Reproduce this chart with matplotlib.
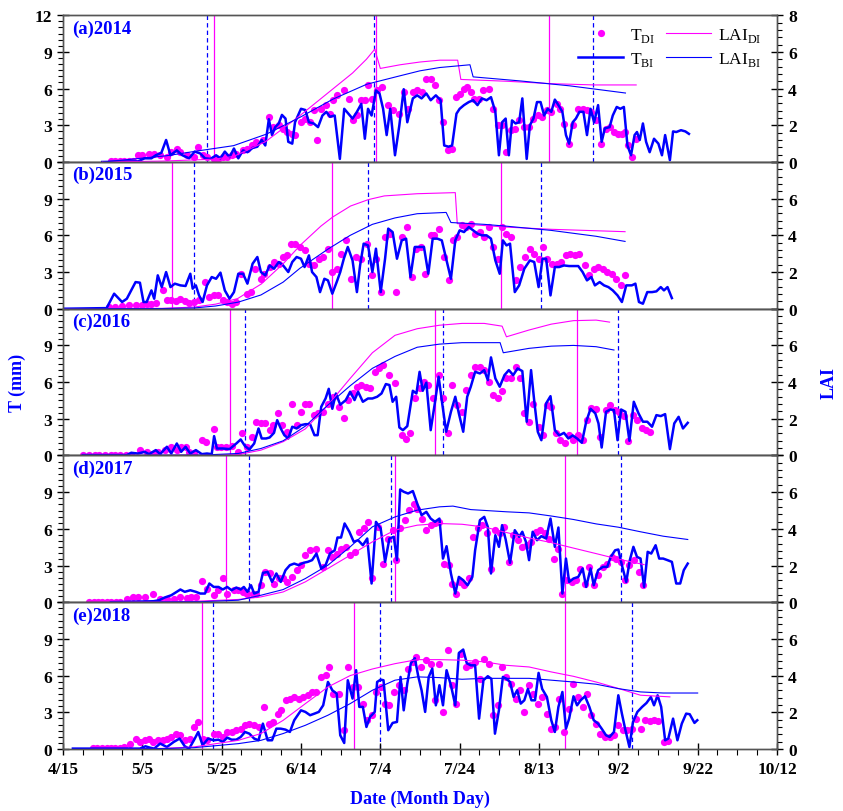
import numpy as np
import matplotlib
matplotlib.use('Agg')
import matplotlib.pyplot as plt
from matplotlib.ticker import MultipleLocator
from matplotlib.lines import Line2D

# Day of year for x; T in mm, LAI in m2/m2
years = [2014, 2015, 2016, 2017, 2018]
panel_tags = ['(a)', '(b)', '(c)', '(d)', '(e)']

tick_days = [105, 125, 145, 165, 185, 205, 225, 245, 265, 285]
tick_labels = ['4/15', '5/5', '5/25', '6/14', '7/4', '7/24', '8/13', '9/2', '9/22', '10/12']

# growth stage boundaries (DI solid magenta, BI dashed blue)
stage_di_2014 = [143.0, 183.8, 227.6]
stage_bi_2014 = [141.3, 183.3, 238.7]
stage_di_2015 = [132.4, 172.7, 215.5]
stage_bi_2015 = [138.0, 181.8, 225.6]
stage_di_2016 = [147.0, 198.9, 234.7]
stage_bi_2016 = [150.8, 200.9, 245.0]
stage_di_2017 = [146.0, 188.6, 231.6]
stage_bi_2017 = [151.8, 187.8, 245.7]
stage_di_2018 = [140.0, 178.3, 231.6]
stage_bi_2018 = [142.8, 184.8, 248.5]

# ---- 2014 ----
tbi_2014 = [
    (114.9, 0.0), (123.9, 0.05), (125.6, 0.3), (127.3, 0.3), (128.4, 0.55), (129.8, 0.75), (131.0, 1.8),
    (132.1, 0.55), (133.7, 0.95), (135.1, 0.55), (136.8, 0.3), (138.2, 0.85), (139.6, 0.7), (140.8, 0.3),
    (142.2, 0.25), (143.6, 0.55), (144.7, 0.3), (145.8, 0.85), (147.0, 0.4), (148.1, 1.1), (149.2, 0.3),
    (150.4, 0.95), (151.5, 0.8), (152.8, 1.15), (154.0, 1.25), (155.1, 1.8), (156.0, 1.35), (156.9, 3.5),
    (157.7, 2.2), (158.5, 2.85), (159.4, 3.15), (160.2, 3.85), (161.1, 3.55), (161.8, 1.65), (162.8, 1.5),
    (163.5, 3.25), (165.0, 4.35), (166.1, 4.25), (167.0, 3.25), (168.2, 3.15), (169.3, 2.85), (170.4, 3.8),
    (171.4, 4.1), (172.3, 3.7), (173.5, 3.8), (174.8, 0.25), (175.9, 4.35), (178.0, 3.55), (179.1, 4.1),
    (180.2, 4.75), (181.1, 1.9), (181.9, 4.35), (182.8, 3.8), (183.9, 5.85), (184.8, 5.6), (185.7, 4.35),
    (186.6, 2.2), (187.5, 4.35), (188.7, 0.55), (189.8, 3.0), (190.9, 5.95), (191.8, 3.25), (193.2, 5.2),
    (194.3, 5.45), (195.4, 5.2), (196.6, 5.6), (197.7, 5.05), (199.0, 5.45), (200.2, 5.05), (201.1, 1.35),
    (202.2, 1.25), (203.1, 1.35), (204.2, 3.95), (205.0, 4.35), (206.1, 4.65), (207.3, 4.9), (208.4, 5.05),
    (209.5, 4.65), (210.6, 5.2), (211.8, 5.05), (212.9, 5.3), (214.0, 4.1), (214.9, 0.55), (215.7, 3.25),
    (216.6, 3.55), (217.4, 0.55), (218.2, 3.4), (219.1, 3.15), (220.0, 3.25), (220.8, 5.2), (221.9, 0.25),
    (222.7, 3.0), (223.6, 3.55), (224.5, 4.9), (225.4, 4.9), (226.3, 3.8), (227.2, 4.35), (228.1, 4.1),
    (229.0, 5.1), (229.9, 4.65), (230.9, 4.1), (231.8, 2.2), (232.6, 1.5), (233.5, 3.25), (234.3, 3.55),
    (235.2, 4.1), (236.2, 4.1), (237.1, 2.2), (238.0, 4.35), (238.9, 3.25), (239.9, 4.65), (240.8, 1.65),
    (241.6, 2.75), (242.8, 2.85), (243.6, 3.8), (244.6, 4.5), (245.5, 4.35), (246.4, 4.5), (247.3, 1.35),
    (248.2, 0.55), (249.1, 2.2), (249.7, 2.45), (250.4, 1.8), (251.2, 3.15), (252.0, 1.65), (252.9, 0.8),
    (254.0, 1.9), (255.1, 1.5), (256.0, 0.55), (256.8, 2.2), (258.0, 0.15), (258.8, 2.5), (259.6, 2.45),
    (260.8, 2.6), (261.9, 2.5), (262.8, 2.3),
]
tdi_2014 = [
    (117.1, 0.05), (118.2, 0.05), (119.4, 0.05), (120.5, 0.05), (121.6, 0.05), (122.7, 0.1), (123.9, 0.55),
    (125.0, 0.55), (126.7, 0.68), (128.0, 0.68), (129.5, 0.55), (131.2, 0.41), (132.3, 0.82), (133.7, 1.09),
    (134.6, 0.82), (136.3, 0.55), (138.0, 0.41), (139.1, 1.23), (140.2, 0.55), (141.3, 0.41), (143.0, 0.27),
    (144.2, 0.27), (145.3, 0.41), (146.4, 0.41), (147.5, 0.55), (148.7, 0.68), (150.4, 0.95), (151.5, 1.09),
    (152.6, 1.36), (153.7, 1.64), (155.4, 1.77), (156.9, 3.68), (158.0, 2.86), (159.4, 3.0), (160.5, 2.73),
    (161.6, 2.45), (162.8, 2.32), (163.6, 2.18), (165.0, 3.27), (166.1, 3.54), (167.3, 3.27), (168.2, 4.23),
    (169.0, 1.77), (170.1, 4.36), (171.2, 4.64), (172.3, 3.95), (173.1, 5.05), (174.2, 5.45), (175.9, 5.86),
    (177.1, 5.18), (178.0, 3.41), (179.1, 3.82), (180.2, 5.05), (181.1, 5.05), (181.9, 6.33), (183.0, 5.18),
    (184.2, 5.86), (185.3, 6.14), (187.0, 4.64), (188.1, 4.23), (189.8, 3.95), (190.9, 5.73), (192.0, 4.36),
    (193.2, 5.73), (194.3, 5.86), (195.4, 5.73), (196.6, 6.82), (197.7, 6.82), (198.8, 6.27), (199.9, 5.05),
    (200.8, 3.27), (202.0, 0.95), (203.1, 1.09), (204.2, 5.32), (205.0, 5.59), (206.1, 6.0), (206.9, 6.14),
    (207.8, 5.73), (208.7, 5.18), (209.9, 5.18), (211.0, 5.86), (212.3, 6.0), (213.5, 4.36), (214.6, 3.0),
    (215.7, 3.0), (216.8, 0.82), (218.0, 2.59), (218.9, 2.73), (220.0, 3.41), (221.3, 2.86), (222.5, 2.86),
    (223.6, 3.54), (224.7, 3.82), (225.8, 3.68), (227.0, 4.23), (228.1, 4.09), (229.5, 4.77), (230.4, 4.36),
    (231.3, 3.14), (232.6, 1.5), (233.7, 3.0), (234.9, 4.36), (236.0, 4.36), (237.1, 4.23), (238.2, 4.09),
    (239.4, 3.41), (240.7, 1.5), (241.8, 2.73), (243.0, 2.86), (243.9, 2.45), (245.0, 2.32), (245.9, 2.32),
    (246.7, 2.45), (247.5, 1.36), (248.4, 0.41), (249.5, 1.91),
]
lai_di_2014 = [
    (115.0, 0.0), (130.0, 0.05), (143.0, 0.15), (148.0, 0.3), (156.0, 1.1), (164.0, 2.4), (172.0, 3.8),
    (178.0, 4.85), (181.5, 5.6), (183.6, 6.15), (185.0, 5.1), (190.0, 5.3), (195.0, 5.45), (200.0, 5.55),
    (204.5, 5.55), (205.3, 4.5), (217.0, 4.4), (228.0, 4.27), (239.0, 4.2), (249.5, 4.2),
]
lai_bi_2014 = [
    (115.2, 0.0), (122.7, 0.16), (131.1, 0.34), (139.5, 0.62), (148.0, 0.89), (156.3, 1.52), (164.7, 2.43),
    (173.1, 3.43), (181.6, 4.24), (190.0, 4.7), (195.0, 4.97), (200.0, 5.15), (207.6, 5.3), (208.4, 4.64),
    (220.2, 4.42), (232.8, 4.15), (246.8, 3.76),
]

# ---- 2015 ----
tbi_2015 = [
    (105.0, 0.0), (116.0, 0.05), (117.9, 1.23), (119.9, 0.55), (121.1, 0.82), (123.3, 2.18), (124.4, 2.13),
    (125.3, 0.55), (126.1, 0.55), (127.3, 1.5), (128.0, 0.82), (128.9, 2.73), (129.9, 1.77), (131.0, 3.0),
    (132.1, 1.77), (133.2, 2.05), (134.6, 1.91), (135.9, 1.86), (137.1, 2.86), (137.7, 1.64), (138.5, 1.91),
    (139.3, 1.09), (140.2, 0.55), (141.3, 1.91), (142.5, 2.59), (143.6, 2.45), (144.7, 2.95), (145.8, 1.5),
    (147.0, 0.82), (148.1, 1.36), (149.2, 2.86), (150.4, 2.86), (151.5, 2.05), (152.8, 3.68), (154.0, 4.23),
    (154.9, 3.0), (156.0, 2.73), (157.1, 3.54), (158.2, 3.27), (159.4, 3.82), (160.5, 3.54), (161.8, 3.0),
    (162.8, 3.82), (163.9, 4.23), (165.0, 4.09), (165.9, 3.41), (167.0, 4.36), (167.8, 3.0), (168.9, 2.59),
    (169.8, 1.36), (170.9, 2.45), (171.8, 2.32), (172.9, 1.23), (174.0, 2.18), (174.9, 3.0), (175.8, 4.09),
    (176.8, 5.05), (178.0, 3.95), (179.1, 1.36), (179.9, 3.54), (180.8, 5.32), (181.9, 5.18), (183.0, 3.0),
    (183.9, 4.91), (185.1, 1.36), (186.2, 4.09), (187.0, 6.55), (188.1, 6.27), (189.2, 4.09), (190.4, 5.59),
    (191.5, 5.73), (192.6, 2.59), (193.7, 5.05), (194.9, 5.05), (196.0, 5.05), (197.1, 2.86), (198.2, 5.73),
    (199.4, 5.73), (200.5, 5.59), (201.6, 4.09), (202.8, 2.45), (203.9, 5.59), (205.0, 6.41), (206.1, 6.27),
    (207.3, 6.68), (208.4, 6.41), (209.5, 6.14), (210.6, 6.0), (211.8, 6.0), (212.9, 5.73), (214.0, 3.95),
    (215.1, 2.86), (215.9, 5.59), (216.8, 5.18), (217.7, 5.32), (218.9, 1.36), (220.0, 1.91), (221.3, 3.27),
    (222.7, 3.95), (223.8, 3.82), (224.9, 1.77), (225.9, 4.09), (226.8, 4.09), (227.9, 1.09), (229.0, 3.41),
    (230.1, 3.41), (231.3, 3.54), (232.6, 3.49), (233.7, 3.49), (234.9, 3.49), (236.0, 3.0), (237.1, 2.32),
    (238.2, 2.59), (239.1, 1.91), (240.3, 2.18), (241.4, 1.91), (242.5, 1.77), (243.6, 1.5), (244.8, 1.09),
    (245.9, 0.55), (247.0, 1.91), (248.4, 1.91), (249.3, 2.05), (250.2, 0.55), (251.2, 0.41), (252.3, 1.36),
    (253.5, 1.36), (254.6, 1.42), (255.7, 1.77), (256.5, 1.5), (257.4, 1.77), (258.5, 0.87),
]
tdi_2015 = [
    (116.6, 0.14), (118.2, 0.14), (119.9, 0.22), (121.6, 0.27), (123.3, 0.27), (125.0, 0.33), (126.1, 0.41),
    (127.3, 0.41), (128.4, 0.49), (130.1, 1.5), (131.2, 0.68), (132.3, 0.68), (133.5, 0.6), (134.6, 0.82),
    (135.7, 0.6), (136.8, 0.46), (138.0, 0.55), (139.3, 0.68), (140.8, 2.18), (141.9, 0.95), (143.0, 1.09),
    (144.2, 1.09), (145.3, 0.68), (146.4, 0.55), (147.5, 0.41), (148.7, 0.55), (149.8, 2.86), (151.3, 1.23),
    (152.4, 1.36), (153.5, 3.27), (154.9, 2.45), (155.8, 2.86), (157.1, 3.41), (158.2, 3.82), (159.4, 3.68),
    (160.5, 4.23), (161.6, 4.36), (162.5, 5.32), (163.6, 5.32), (164.8, 5.05), (165.9, 4.77), (167.0, 3.68),
    (168.2, 3.54), (169.5, 4.09), (170.6, 4.23), (171.8, 4.91), (172.9, 3.0), (174.0, 3.27), (175.1, 4.5),
    (176.3, 5.59), (177.6, 2.45), (178.8, 4.23), (180.2, 4.09), (181.7, 5.32), (182.8, 2.73), (183.9, 4.09),
    (185.1, 1.36), (186.2, 5.86), (187.5, 6.14), (188.9, 1.36), (190.4, 5.86), (191.8, 6.68), (192.9, 2.59),
    (194.1, 4.91), (195.2, 5.05), (196.3, 2.86), (197.7, 6.0), (198.6, 6.0), (199.9, 6.55), (201.1, 4.23),
    (202.2, 2.32), (203.3, 5.59), (204.4, 5.86), (205.6, 6.82), (206.7, 6.68), (207.8, 6.95), (208.9, 6.14),
    (210.1, 6.27), (211.2, 5.86), (212.3, 6.68), (213.5, 5.05), (214.6, 4.09), (215.7, 6.68), (216.8, 6.14),
    (218.0, 5.86), (219.1, 2.32), (220.2, 3.41), (221.6, 4.23), (222.7, 4.91), (223.8, 4.5), (224.9, 4.09),
    (225.9, 5.05), (227.0, 4.09), (228.3, 3.68), (229.5, 3.68), (230.6, 3.82), (231.7, 4.36), (232.8, 4.5),
    (234.0, 4.36), (235.1, 4.5), (236.6, 3.54), (237.7, 2.73), (238.8, 3.27), (239.9, 3.41), (241.1, 3.27),
    (242.2, 3.0), (243.3, 2.86), (244.4, 2.45), (245.6, 1.91), (246.7, 2.73),
]
lai_di_2015 = [
    (105.0, 0.0), (130.0, 0.02), (138.0, 0.09), (143.5, 0.25), (149.0, 0.55), (155.0, 1.35), (160.5, 2.45),
    (165.0, 3.5), (170.0, 4.5), (173.0, 5.0), (177.5, 5.6), (182.0, 5.95), (186.0, 6.15), (194.3, 6.27),
    (203.9, 6.33), (204.4, 4.64), (216.8, 4.45), (228.1, 4.33), (246.7, 4.2),
]
lai_bi_2015 = [
    (105.0, 0.0), (130.0, 0.01), (138.0, 0.04), (143.5, 0.15), (149.2, 0.36), (154.9, 0.75), (160.5, 1.45),
    (164.7, 2.2), (171.8, 3.25), (177.4, 4.0), (183.0, 4.6), (188.7, 4.95), (194.3, 5.18), (201.6, 5.25),
    (202.8, 4.7), (211.2, 4.6), (216.8, 4.5), (228.1, 4.27), (239.4, 3.95), (246.7, 3.67),
]

# ---- 2016 ----
tbi_2016 = [
    (110.0, 0.03), (121.1, 0.03), (122.2, 0.22), (123.9, 0.16), (125.6, 0.3), (126.7, 0.11), (128.4, 0.44),
    (129.5, 0.11), (131.2, 0.71), (132.3, 0.16), (133.7, 0.98), (134.8, 0.3), (135.9, 0.71), (137.1, 0.16),
    (138.5, 0.44), (140.0, 0.11), (141.3, 0.16), (142.5, 0.11), (143.1, 1.58), (143.8, 0.57), (145.3, 0.57),
    (147.0, 0.52), (148.7, 0.98), (149.8, 1.31), (150.9, 0.76), (152.0, 0.49), (153.2, 0.98), (154.3, 2.21),
    (155.1, 1.39), (156.2, 1.39), (157.1, 1.47), (158.2, 1.85), (159.0, 2.89), (159.9, 2.21), (160.8, 1.66),
    (161.8, 1.39), (162.8, 2.35), (163.9, 2.21), (165.0, 2.48), (166.1, 2.56), (167.3, 2.56), (168.4, 1.66),
    (169.2, 1.66), (170.1, 3.98), (171.2, 4.66), (172.0, 5.45), (172.9, 3.82), (173.8, 5.07), (174.9, 4.15),
    (176.3, 4.53), (177.4, 5.21), (178.5, 4.53), (179.4, 5.21), (180.6, 4.39), (181.9, 4.66), (183.0, 4.66),
    (184.2, 4.8), (185.3, 5.07), (186.4, 5.84), (187.3, 5.76), (188.1, 4.39), (189.0, 4.8), (189.8, 2.29),
    (190.7, 2.07), (191.8, 2.4), (193.2, 5.29), (194.1, 5.07), (194.9, 6.84), (195.7, 5.29), (196.6, 5.95),
    (197.7, 2.07), (198.8, 4.39), (199.7, 6.44), (200.6, 4.26), (201.6, 1.94), (202.8, 3.57), (203.9, 4.8),
    (204.8, 3.44), (205.9, 1.94), (206.9, 4.8), (207.8, 5.62), (208.9, 6.84), (210.1, 6.71), (211.2, 6.98),
    (212.1, 6.16), (212.9, 8.02), (214.0, 6.3), (215.1, 5.62), (216.3, 6.57), (217.4, 6.98), (218.5, 6.57),
    (219.6, 7.12), (220.8, 6.9), (221.9, 2.76), (223.0, 6.98), (223.8, 4.47), (224.7, 1.94), (225.6, 1.25),
    (226.8, 4.26), (227.9, 4.85), (229.0, 2.07), (230.1, 1.64), (231.3, 1.85), (232.4, 1.39), (233.5, 1.64),
    (234.6, 1.39), (235.8, 1.04), (236.9, 2.76), (238.0, 3.82), (239.2, 3.44), (240.0, 2.62), (240.8, 0.65),
    (241.9, 3.57), (243.0, 3.76), (243.9, 3.71), (244.8, 1.25), (245.7, 3.76), (246.8, 3.57), (247.8, 1.2),
    (248.9, 4.39), (250.1, 3.44), (251.2, 2.76), (252.3, 2.76), (253.5, 2.35), (254.6, 3.3), (255.7, 3.22),
    (256.8, 3.38), (258.0, 0.52), (259.1, 2.62), (260.2, 3.16), (261.3, 2.21), (262.5, 2.67),
]
tdi_2016 = [
    (110.0, 0.05), (111.5, 0.05), (113.0, 0.05), (114.0, 0.05), (115.5, 0.05), (117.0, 0.05), (118.0, 0.05),
    (119.5, 0.05), (121.0, 0.05), (122.2, 0.03), (124.4, 0.44), (126.1, 0.3), (127.8, 0.16), (129.0, 0.3),
    (130.6, 0.44), (132.3, 0.71), (133.7, 0.44), (134.8, 0.71), (135.9, 0.71), (136.8, 0.3), (138.0, 0.22),
    (140.0, 1.25), (141.1, 1.12), (143.0, 2.15), (143.8, 0.71), (144.9, 0.71), (146.1, 0.71), (147.5, 0.76),
    (149.0, 0.25), (150.1, 1.8), (151.5, 0.71), (152.6, 1.53), (153.7, 2.75), (154.9, 2.62), (156.0, 2.62),
    (157.1, 2.07), (158.0, 2.48), (159.1, 3.44), (160.2, 2.48), (161.4, 1.94), (162.8, 4.25), (163.9, 2.48),
    (165.0, 3.57), (166.1, 4.25), (167.0, 4.25), (168.2, 3.3), (169.3, 3.44), (170.6, 3.57), (171.8, 4.25),
    (173.1, 4.8), (174.6, 3.98), (175.9, 3.03), (176.8, 4.53), (178.0, 5.07), (179.1, 5.62), (180.2, 5.75),
    (181.3, 5.62), (182.5, 5.48), (183.6, 6.84), (184.7, 7.12), (185.8, 7.39), (187.3, 6.57), (188.7, 5.89),
    (190.4, 1.66), (191.5, 1.31), (192.6, 1.8), (193.7, 4.66), (194.9, 5.48), (196.0, 6.03), (197.1, 5.75),
    (198.2, 4.66), (199.7, 6.57), (200.8, 4.66), (202.0, 1.8), (203.1, 5.75), (204.4, 4.12), (205.6, 3.57),
    (206.7, 5.34), (207.8, 6.57), (208.9, 7.25), (210.1, 7.25), (211.2, 6.98), (212.3, 6.03), (213.5, 4.94),
    (214.6, 4.66), (215.7, 5.29), (216.8, 6.3), (218.0, 6.3), (219.1, 7.25), (220.2, 6.3), (221.3, 3.44),
    (222.5, 2.75), (223.6, 4.25), (224.9, 2.35), (226.1, 1.66), (227.0, 4.12), (228.1, 3.98), (229.2, 1.85),
    (230.4, 1.25), (231.5, 0.98), (232.6, 1.66), (233.7, 1.25), (234.9, 1.66), (236.0, 1.25), (237.1, 2.89),
    (238.2, 3.85), (239.4, 3.76), (240.5, 1.53), (241.9, 3.71), (243.0, 4.12), (244.1, 3.71), (245.2, 3.57),
    (246.4, 3.22), (247.5, 1.17), (248.6, 3.3), (249.7, 2.89), (250.9, 2.21), (252.0, 2.07), (253.1, 1.94),
]
lai_di_2016 = [
    (110.0, 0.0), (140.0, 0.01), (149.2, 0.05), (154.9, 0.29), (160.5, 0.75), (166.1, 1.45), (171.8, 2.75),
    (177.4, 4.2), (183.0, 5.6), (188.7, 6.55), (194.3, 6.91), (199.9, 7.1), (205.6, 7.2), (211.2, 7.2),
    (215.7, 7.05), (216.8, 6.47), (222.5, 6.84), (228.1, 7.16), (233.7, 7.35), (239.4, 7.38), (242.8, 7.27),
]
lai_bi_2016 = [
    (110.0, 0.0), (140.0, 0.02), (149.2, 0.11), (154.9, 0.38), (160.5, 0.8), (166.1, 1.6), (171.8, 2.75),
    (177.4, 3.8), (183.0, 4.75), (188.7, 5.4), (194.3, 5.9), (199.9, 6.07), (205.6, 6.15), (215.2, 6.15),
    (216.0, 5.6), (222.5, 5.84), (228.1, 5.96), (233.7, 6.0), (239.4, 5.93), (243.9, 5.75),
]

# ---- 2017 ----
tbi_2017 = [
    (117.1, 0.0), (127.8, 0.08), (129.2, 0.16), (130.6, 0.38), (132.3, 0.57), (133.7, 0.85), (134.6, 1.04),
    (135.7, 0.85), (137.1, 0.98), (138.5, 0.85), (139.6, 0.71), (140.8, 0.71), (141.9, 1.53), (143.0, 1.25),
    (144.2, 1.25), (145.3, 1.04), (146.4, 1.25), (147.5, 0.98), (148.7, 1.2), (149.8, 1.04), (150.6, 1.25),
    (151.5, 0.85), (152.4, 1.39), (153.2, 0.71), (154.3, 0.85), (155.4, 2.4), (156.6, 2.48), (157.7, 1.66),
    (158.8, 2.35), (159.9, 1.66), (161.1, 2.62), (162.2, 3.03), (163.3, 3.16), (164.4, 3.03), (165.6, 3.22),
    (166.7, 3.3), (167.8, 3.44), (168.9, 3.98), (170.1, 2.76), (171.2, 3.03), (172.3, 3.98), (173.5, 4.25),
    (174.2, 5.29), (175.1, 5.29), (176.0, 6.44), (177.2, 5.76), (178.3, 4.94), (179.4, 5.07), (180.6, 4.66),
    (181.7, 5.21), (182.8, 1.53), (183.9, 6.57), (185.1, 6.03), (186.2, 3.3), (187.3, 5.21), (188.4, 5.35),
    (189.2, 3.44), (190.0, 9.22), (190.9, 9.03), (192.0, 8.89), (193.2, 9.09), (194.3, 8.07), (195.4, 7.12),
    (196.6, 7.39), (197.7, 6.84), (198.8, 6.57), (199.9, 6.84), (200.8, 3.57), (201.7, 4.58), (202.8, 2.35),
    (203.9, 0.71), (204.8, 2.07), (205.9, 1.8), (207.0, 1.39), (208.2, 2.07), (208.9, 4.25), (210.1, 6.71),
    (211.2, 6.98), (212.1, 6.16), (212.9, 2.35), (214.0, 5.48), (214.9, 4.53), (215.7, 6.3), (216.6, 5.13),
    (217.7, 3.22), (218.9, 5.89), (220.0, 5.35), (220.8, 5.76), (221.7, 4.94), (222.5, 3.44), (223.4, 5.76),
    (224.5, 5.07), (225.6, 5.4), (226.8, 5.21), (227.9, 6.84), (229.0, 4.53), (229.9, 6.11), (230.9, 0.71),
    (231.8, 3.57), (232.6, 1.66), (233.7, 1.94), (234.9, 2.07), (236.0, 2.76), (236.9, 1.25), (238.0, 2.76),
    (238.8, 1.39), (239.9, 2.62), (241.1, 2.89), (242.2, 2.89), (243.1, 3.71), (244.2, 4.25), (245.0, 4.31),
    (245.9, 3.03), (247.0, 1.66), (247.9, 3.44), (248.8, 4.53), (249.7, 3.71), (250.6, 3.57), (251.5, 1.25),
    (252.4, 4.12), (253.3, 3.98), (254.4, 4.66), (255.3, 3.57), (256.3, 3.57), (257.4, 3.44), (258.5, 3.3),
    (259.6, 1.53), (260.6, 1.53), (261.5, 2.62), (262.5, 3.16),
]
tdi_2017 = [
    (111.5, 0.05), (112.7, 0.05), (113.8, 0.05), (114.9, 0.05), (116.0, 0.05), (117.1, 0.05), (118.3, 0.05),
    (119.4, 0.05), (121.1, 0.3), (122.7, 0.44), (123.9, 0.44), (125.6, 0.44), (127.8, 0.65), (129.5, 0.3),
    (131.2, 0.3), (132.9, 0.3), (134.6, 0.44), (136.3, 0.38), (137.4, 0.44), (138.5, 0.44), (140.0, 1.72),
    (141.3, 1.12), (143.0, 0.57), (144.2, 0.98), (145.3, 1.99), (146.4, 0.71), (148.1, 0.98), (149.2, 0.98),
    (150.4, 0.85), (151.5, 0.71), (152.8, 0.71), (153.7, 0.71), (154.9, 1.39), (156.0, 2.48), (157.1, 2.35),
    (158.2, 1.53), (159.4, 1.94), (160.5, 1.94), (161.6, 1.66), (162.8, 2.07), (163.9, 2.67), (165.0, 3.03),
    (166.1, 3.85), (167.3, 4.25), (168.9, 4.39), (170.6, 2.89), (171.8, 4.25), (172.9, 3.71), (174.0, 3.98),
    (175.1, 4.39), (176.3, 4.53), (177.4, 3.85), (178.5, 4.12), (179.7, 5.75), (180.8, 6.03), (181.9, 6.57),
    (182.8, 1.94), (184.4, 6.16), (185.8, 3.16), (187.0, 5.21), (188.1, 5.89), (188.9, 3.44), (190.0, 6.03),
    (191.1, 6.71), (192.3, 7.58), (193.4, 8.07), (194.3, 7.66), (195.4, 6.84), (196.6, 5.89), (197.7, 6.3),
    (198.8, 6.44), (199.9, 6.57), (201.1, 3.16), (202.2, 3.03), (203.1, 1.53), (204.0, 0.65), (205.1, 1.66),
    (206.2, 1.39), (207.3, 1.94), (208.4, 5.35), (209.5, 6.03), (210.6, 6.3), (211.8, 5.62), (212.9, 2.75),
    (214.0, 5.89), (215.1, 5.62), (216.3, 6.16), (217.4, 3.3), (218.5, 5.48), (219.6, 5.07), (220.8, 4.53),
    (221.9, 4.66), (223.0, 4.94), (224.2, 5.75), (225.3, 5.89), (226.4, 5.62), (227.5, 5.21), (228.7, 3.57),
    (229.8, 4.39), (230.9, 0.71), (232.1, 1.8), (233.2, 1.66), (234.3, 1.8), (235.4, 2.75), (236.6, 1.53),
    (237.7, 2.89), (238.8, 1.39), (239.9, 2.21), (241.1, 2.89), (242.2, 3.16), (243.3, 3.71), (244.4, 3.57),
    (245.6, 3.3), (246.7, 1.8), (247.8, 3.03), (248.9, 3.44), (250.1, 2.48), (251.2, 1.39),
]
lai_di_2017 = [
    (117.0, 0.0), (138.0, 0.05), (149.2, 0.15), (154.9, 0.29), (160.5, 0.56), (166.1, 1.11), (171.8, 1.84),
    (177.4, 2.56), (183.0, 3.29), (188.7, 3.93), (194.3, 4.2), (199.9, 4.29), (205.6, 4.25), (211.2, 4.1),
    (216.8, 3.8), (222.5, 3.5), (228.1, 3.25), (233.7, 2.95), (239.4, 2.65), (245.0, 2.35), (251.5, 2.05),
]
lai_bi_2017 = [
    (117.0, 0.0), (140.0, 0.03), (149.2, 0.11), (154.9, 0.38), (160.5, 0.69), (166.1, 1.29), (171.8, 2.02),
    (177.4, 3.02), (183.0, 4.11), (188.7, 4.65), (194.3, 5.02), (199.9, 5.2), (203.3, 5.24), (207.8, 5.05),
    (216.8, 4.93), (222.5, 4.87), (228.1, 4.7), (233.7, 4.51), (239.4, 4.27), (245.0, 4.09), (250.6, 3.84),
    (256.3, 3.6), (262.5, 3.42),
]

# ---- 2018 ----
tbi_2018 = [
    (107.5, 0.03), (124.4, 0.03), (125.8, 0.22), (126.9, 0.11), (128.0, 0.03), (129.5, 0.44), (131.2, 0.16),
    (132.9, 0.57), (134.4, 0.85), (135.7, 0.22), (136.8, 0.03), (138.0, 0.71), (139.1, 1.39), (140.2, 0.3),
    (141.6, 0.85), (143.0, 0.71), (144.2, 0.76), (145.3, 0.57), (146.4, 0.93), (147.5, 0.76), (148.7, 0.76),
    (149.8, 0.98), (150.9, 1.39), (152.0, 1.25), (153.2, 0.85), (154.3, 0.71), (155.4, 2.07), (156.6, 0.71),
    (157.7, 0.71), (158.8, 1.66), (159.9, 1.66), (161.1, 1.58), (162.2, 1.39), (163.3, 2.35), (165.0, 3.16),
    (166.1, 3.03), (167.3, 2.76), (168.4, 2.89), (169.5, 3.03), (170.6, 3.57), (171.8, 5.48), (172.9, 4.8),
    (174.0, 4.53), (174.9, 1.12), (175.9, 0.49), (176.8, 5.62), (178.0, 4.12), (178.9, 6.44), (179.7, 3.44),
    (180.6, 3.44), (181.5, 1.8), (182.4, 2.62), (183.6, 3.03), (184.2, 5.48), (185.1, 5.67), (185.8, 5.62),
    (187.0, 1.53), (188.1, 2.13), (189.2, 2.21), (190.1, 5.89), (190.9, 3.16), (191.8, 5.35), (192.7, 7.01),
    (193.7, 7.42), (194.6, 5.89), (195.4, 4.8), (196.3, 3.03), (197.2, 5.89), (198.1, 6.57), (199.0, 3.57),
    (199.9, 5.21), (200.8, 3.57), (201.7, 6.44), (202.8, 5.21), (203.9, 3.57), (204.8, 7.85), (205.9, 8.13),
    (206.8, 7.01), (207.8, 6.84), (208.9, 6.84), (209.9, 2.48), (211.0, 5.62), (212.1, 5.95), (213.0, 5.73),
    (213.9, 1.25), (214.9, 3.16), (215.9, 5.89), (216.8, 5.73), (217.7, 5.48), (218.6, 4.25), (219.5, 4.8),
    (220.4, 3.71), (221.3, 3.98), (222.2, 4.91), (223.1, 3.98), (224.0, 3.98), (224.9, 6.22), (225.8, 4.91),
    (227.0, 4.25), (228.1, 2.35), (229.0, 1.39), (229.9, 3.44), (230.9, 4.66), (231.8, 1.66), (232.6, 2.48),
    (233.7, 4.31), (234.6, 3.57), (235.5, 3.98), (236.6, 4.31), (237.7, 3.44), (238.8, 2.35), (239.9, 2.07),
    (240.8, 1.66), (241.9, 1.12), (242.8, 0.98), (243.9, 1.39), (245.0, 4.39), (245.9, 2.89), (246.8, 1.53),
    (247.8, 0.16), (248.7, 2.21), (249.8, 3.03), (251.0, 3.44), (252.1, 3.76), (253.2, 4.25), (254.0, 3.57),
    (254.9, 4.39), (255.8, 3.44), (256.8, 0.71), (257.6, 0.85), (258.8, 2.48), (259.9, 0.71), (261.0, 2.07),
    (262.1, 2.89), (263.0, 2.84), (264.2, 2.13), (264.9, 2.35),
]
tdi_2018 = [
    (112.6, 0.08), (113.7, 0.08), (114.9, 0.08), (116.0, 0.08), (117.1, 0.08), (118.2, 0.08), (119.4, 0.08),
    (120.5, 0.16), (122.0, 0.44), (123.3, 0.85), (124.4, 0.57), (125.6, 0.71), (126.7, 0.85), (127.8, 0.57),
    (129.0, 0.71), (130.1, 0.76), (131.2, 0.85), (132.3, 0.98), (133.5, 1.25), (134.6, 1.12), (135.7, 0.71),
    (137.1, 0.85), (138.0, 1.8), (139.1, 2.21), (140.2, 0.85), (141.3, 0.76), (143.0, 1.25), (144.2, 1.2),
    (145.3, 0.98), (146.4, 1.39), (147.5, 1.39), (148.7, 1.53), (149.8, 1.66), (150.9, 1.94), (152.0, 2.07),
    (153.2, 1.94), (154.3, 1.8), (155.8, 3.44), (156.9, 2.07), (158.0, 2.21), (159.1, 2.89), (159.9, 3.16),
    (161.1, 3.98), (162.2, 4.12), (163.3, 4.25), (164.4, 4.12), (165.6, 4.25), (166.7, 4.39), (167.8, 4.66),
    (168.9, 4.66), (170.1, 5.89), (171.2, 6.03), (172.1, 6.71), (173.1, 4.53), (174.6, 4.53), (175.9, 1.53),
    (176.8, 6.71), (178.0, 5.07), (179.4, 5.07), (180.6, 3.71), (181.7, 2.35), (182.8, 2.76), (183.9, 4.66),
    (185.1, 5.07), (186.2, 3.71), (187.3, 3.57), (188.4, 4.66), (189.6, 5.21), (190.9, 4.8), (192.0, 6.57),
    (193.2, 7.12), (194.1, 7.53), (195.2, 6.71), (196.6, 7.25), (197.7, 6.98), (198.8, 3.98), (199.9, 6.98),
    (200.8, 3.03), (202.0, 8.07), (203.1, 5.21), (204.2, 3.71), (205.3, 7.8), (206.5, 6.71), (207.6, 6.84),
    (208.9, 7.12), (210.1, 5.75), (211.2, 7.39), (212.3, 6.98), (213.5, 2.75), (214.6, 3.57), (215.7, 6.71),
    (216.8, 5.89), (218.0, 5.35), (219.1, 4.12), (220.2, 4.8), (221.3, 3.03), (222.5, 5.21), (223.6, 4.53),
    (224.7, 3.71), (225.8, 4.25), (227.0, 2.89), (228.1, 1.66), (229.0, 1.8), (230.1, 4.12), (231.3, 1.39),
    (232.6, 3.3), (233.7, 5.35), (234.9, 4.25), (236.0, 3.44), (237.1, 4.53), (238.2, 2.76), (239.4, 2.07),
    (240.5, 1.25), (241.6, 0.98), (242.8, 0.98), (243.9, 1.12), (245.0, 1.94), (246.1, 1.53), (247.3, 1.53),
    (248.4, 1.66), (249.5, 2.48), (250.6, 1.66), (251.8, 2.35), (252.9, 2.29), (254.0, 2.35), (255.1, 2.29),
    (256.5, 0.57), (257.6, 0.65),
]
lai_di_2018 = [
    (112.0, 0.0), (130.0, 0.03), (138.0, 0.11), (143.6, 0.29), (149.2, 0.47), (154.9, 0.84), (160.5, 1.56),
    (166.1, 2.47), (171.8, 3.38), (177.4, 4.0), (183.0, 4.36), (188.7, 4.65), (194.3, 4.87), (199.9, 4.87),
    (205.6, 4.84), (211.2, 4.75), (216.8, 4.56), (222.5, 4.47), (228.1, 4.2), (233.7, 3.96), (239.4, 3.65),
    (245.0, 3.3), (250.6, 2.93), (258.0, 2.84),
]
lai_bi_2018 = [
    (107.5, 0.0), (130.0, 0.02), (138.0, 0.07), (149.2, 0.29), (154.9, 0.47), (160.5, 0.84), (166.1, 1.29),
    (171.8, 1.84), (177.4, 2.47), (183.0, 3.2), (188.7, 3.75), (194.3, 3.93), (199.9, 3.89), (205.6, 3.8),
    (211.2, 3.85), (216.8, 3.85), (222.5, 3.85), (228.1, 3.75), (233.7, 3.65), (239.4, 3.53), (245.0, 3.29),
    (250.6, 3.11), (256.3, 3.05), (265.0, 3.05),
]

panels = [
    (tdi_2014, tbi_2014, lai_di_2014, lai_bi_2014, stage_di_2014, stage_bi_2014),
    (tdi_2015, tbi_2015, lai_di_2015, lai_bi_2015, stage_di_2015, stage_bi_2015),
    (tdi_2016, tbi_2016, lai_di_2016, lai_bi_2016, stage_di_2016, stage_bi_2016),
    (tdi_2017, tbi_2017, lai_di_2017, lai_bi_2017, stage_di_2017, stage_bi_2017),
    (tdi_2018, tbi_2018, lai_di_2018, lai_bi_2018, stage_di_2018, stage_bi_2018),
]

plt.rcParams['font.family'] = ['Liberation Serif', 'DejaVu Serif']
plt.rcParams['mathtext.fontset'] = 'custom'
plt.rcParams['mathtext.rm'] = 'Liberation Serif'

MAG = '#ff00ff'
BLUE = '#0000ff'
SPINE = '#555555'

fig, axes = plt.subplots(5, 1, figsize=(8.43, 8.12), dpi=100, sharex=True)
fig.subplots_adjust(left=0.0747, right=0.9217, top=0.980, bottom=0.0764, hspace=0)


def xy(series):
    arr = np.array(series)
    return arr[:, 0], arr[:, 1]


for i, (ax, data) in enumerate(zip(axes, panels)):
    tdi, tbi, lai_di, lai_bi, st_di, st_bi = data
    ax2 = ax.twinx()

    for d in st_di:
        ax.axvline(d, color=MAG, lw=0.9, zorder=1)
    for d in st_bi:
        ax.axvline(d, color=BLUE, lw=0.9, ls=(0, (3.5, 2.5)), zorder=1)

    x, y = xy(tdi)
    ax.plot(x, y, 'o', color=MAG, ms=5.2, mec='none', zorder=2)
    x, y = xy(tbi)
    ax.plot(x, y, color=BLUE, lw=1.8, zorder=3)

    x, y = xy(lai_di)
    ax2.plot(x, y, color=MAG, lw=0.8)
    x, y = xy(lai_bi)
    ax2.plot(x, y, color=BLUE, lw=0.8)

    ax.set_xlim(105, 285)
    ax.set_ylim(0, 12)
    ax2.set_ylim(0, 8)

    ax.set_yticks([0, 3, 6, 9, 12])
    ax2.set_yticks([0, 2, 4, 6, 8])
    if i == 0:
        ax.set_yticklabels(['0', '3', '6', '9', '12'])
        ax2.set_yticklabels(['0', '2', '4', '6', '8'])
    else:
        ax.set_yticklabels(['0', '3', '6', '9', ''])
        ax2.set_yticklabels(['0', '2', '4', '6', ''])
    ax.yaxis.set_minor_locator(MultipleLocator(0.5))
    ax2.yaxis.set_minor_locator(MultipleLocator(0.4))

    ax.tick_params(axis='y', which='major', direction='inout', length=9, width=1, labelsize=12.5)
    ax.tick_params(axis='y', which='minor', direction='out', length=3.5, width=0.8)
    ax2.tick_params(axis='y', which='major', direction='inout', length=9, width=1, labelsize=12.5)
    ax2.tick_params(axis='y', which='minor', direction='out', length=3.5, width=0.8)

    for lab in ax.get_yticklabels() + ax2.get_yticklabels():
        lab.set_fontweight('bold')

    for a in (ax, ax2):
        for sp in a.spines.values():
            sp.set_color(SPINE)
            sp.set_linewidth(1.0)

    if i < 4:
        ax.tick_params(axis='x', which='both', bottom=False, labelbottom=False)

    ax.text(0.013, 0.972, panel_tags[i] + str(years[i]), transform=ax.transAxes,
            color=BLUE, fontsize=13.5, fontweight='bold', va='top', ha='left')

    if i == 0:
        handles = [
            Line2D([], [], ls='none', marker='o', color=MAG, ms=5.2, mec='none'),
            Line2D([], [], color=BLUE, lw=1.8),
            Line2D([], [], color=MAG, lw=0.8),
            Line2D([], [], color=BLUE, lw=0.8),
        ]
        labels = [r'T$_\mathrm{DI}$', r'T$_\mathrm{BI}$', r'LAI$_\mathrm{DI}$', r'LAI$_\mathrm{BI}$']
        ax2.legend(handles, labels, ncol=2, loc='upper right', frameon=False, fontsize=12.5,
                   bbox_to_anchor=(1.0, 1.03), handlelength=2.6, columnspacing=0.6,
                   handletextpad=0.4, labelspacing=0.3)

bottom = axes[-1]
bottom.set_xticks(tick_days)
bottom.set_xticklabels(tick_labels)
bottom.xaxis.set_minor_locator(MultipleLocator(5))
bottom.tick_params(axis='x', which='major', direction='inout', length=9, width=1, labelsize=12.5, pad=4)
bottom.tick_params(axis='x', which='minor', direction='out', length=4, width=0.8)
for lab in bottom.get_xticklabels():
    lab.set_fontweight('bold')

fig.text(0.021, 0.528, 'T (mm)', rotation=90, color=BLUE, fontsize=13, fontweight='bold',
         ha='center', va='center')
fig.text(0.984, 0.528, 'LAI', rotation=90, color=BLUE, fontsize=13, fontweight='bold',
         ha='center', va='center')
fig.text(0.498, 0.016, 'Date (Month Day)', color=BLUE, fontsize=13, fontweight='bold',
         ha='center', va='center')

fig.savefig('out.png', dpi=100)
